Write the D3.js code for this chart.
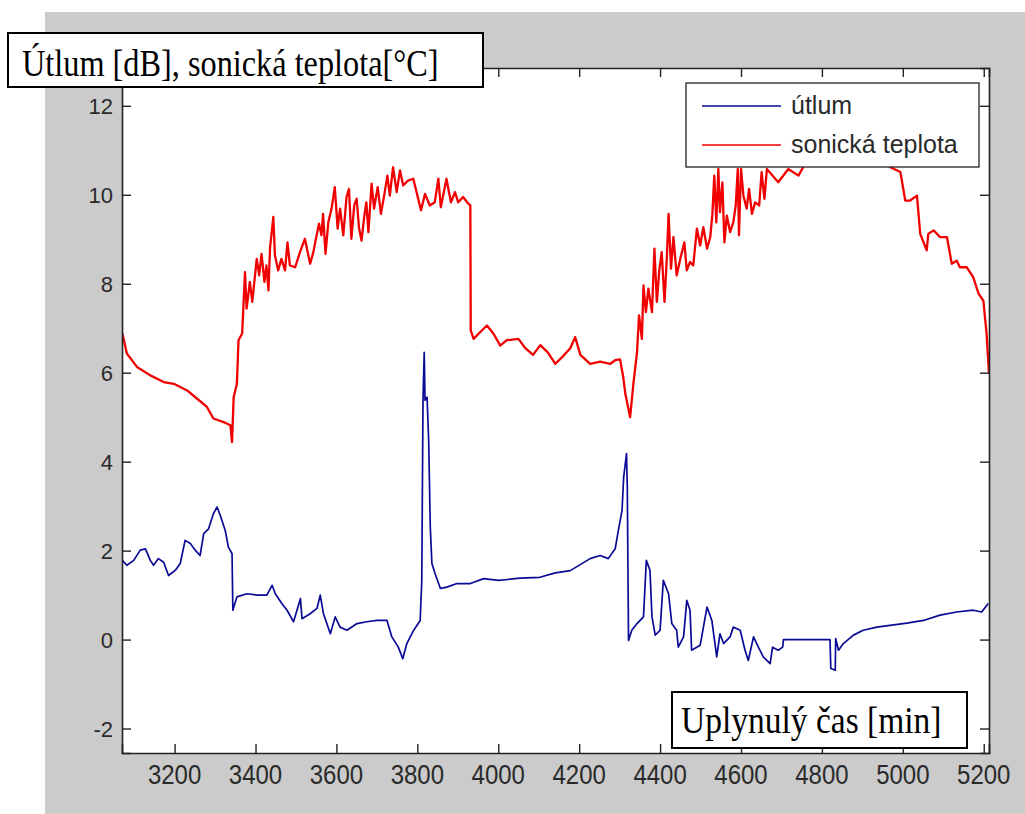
<!DOCTYPE html>
<html>
<head>
<meta charset="utf-8">
<script src="https://cdn.jsdelivr.net/npm/d3@7"></script>
<style>
  html, body { margin: 0; padding: 0; background: #fff; }
  svg { display: block; }
</style>
</head>
<body>
<div id="chart"></div>
<script>
// [time in min, value] pairs
const sonickaTeplota = [
  [3071, 6.88], [3082, 6.43], [3107, 6.13], [3140, 5.94], [3173, 5.79], [3198, 5.75], [3231, 5.60], [3255, 5.42],
  [3280, 5.23], [3296, 4.97], [3321, 4.89], [3338, 4.82], [3342, 4.44], [3346, 5.45], [3354, 5.75], [3358, 6.73],
  [3367, 6.88], [3370, 7.47], [3374, 8.26], [3378, 7.44], [3386, 8.04], [3392, 7.59], [3403, 8.56], [3409, 8.19],
  [3415, 8.67], [3422, 8.04], [3427, 8.41], [3432, 7.85], [3436, 8.82], [3444, 9.50], [3448, 8.64], [3456, 8.30],
  [3464, 8.56], [3473, 8.30], [3479, 8.93], [3485, 8.41], [3498, 8.37], [3510, 8.71], [3522, 9.01], [3535, 8.45],
  [3543, 8.71], [3551, 9.09], [3557, 9.35], [3563, 9.09], [3567, 9.57], [3573, 8.67], [3580, 9.38], [3588, 9.69],
  [3596, 10.17], [3603, 9.24], [3609, 9.69], [3617, 9.09], [3625, 9.95], [3631, 10.13], [3637, 9.01], [3644, 9.76],
  [3650, 9.91], [3656, 9.24], [3662, 8.97], [3669, 9.53], [3674, 9.83], [3679, 9.16], [3687, 10.25], [3693, 9.69],
  [3702, 10.17], [3710, 9.57], [3718, 9.98], [3726, 10.43], [3732, 9.98], [3740, 10.62], [3749, 10.06], [3757, 10.55],
  [3765, 10.21], [3777, 10.32], [3790, 10.36], [3798, 10.06], [3809, 9.65], [3819, 10.02], [3831, 9.76], [3843, 9.83],
  [3852, 10.36], [3858, 9.72], [3872, 10.36], [3883, 9.83], [3893, 10.06], [3901, 9.83], [3913, 9.95], [3926, 9.80],
  [3931, 9.76], [3932, 6.95], [3939, 6.76], [3955, 6.91], [3972, 7.06], [3988, 6.88], [4005, 6.61], [4021, 6.73],
  [4050, 6.76], [4067, 6.55], [4086, 6.40], [4104, 6.62], [4123, 6.45], [4141, 6.20], [4158, 6.35], [4178, 6.55],
  [4190, 6.80], [4203, 6.40], [4227, 6.20], [4252, 6.25], [4277, 6.20], [4289, 6.28], [4301, 6.30], [4309, 5.90],
  [4314, 5.53], [4326, 5.00], [4334, 5.75], [4343, 6.46], [4348, 7.29], [4355, 6.76], [4359, 7.96], [4365, 7.36],
  [4371, 7.89], [4380, 7.36], [4386, 8.79], [4392, 7.59], [4398, 8.30], [4404, 8.71], [4411, 7.59], [4417, 8.64],
  [4421, 9.57], [4427, 8.34], [4433, 9.05], [4441, 8.19], [4450, 8.56], [4460, 8.93], [4466, 8.30], [4474, 8.49],
  [4482, 8.41], [4491, 9.24], [4499, 8.86], [4507, 9.27], [4516, 8.79], [4524, 9.05], [4529, 9.53], [4534, 10.43],
  [4539, 9.38], [4544, 10.58], [4548, 9.61], [4554, 10.28], [4559, 8.93], [4565, 9.53], [4573, 9.16], [4581, 9.38],
  [4587, 9.76], [4592, 10.58], [4595, 9.09], [4600, 10.58], [4606, 9.98], [4614, 9.69], [4620, 10.13], [4627, 9.57],
  [4635, 9.83], [4645, 9.76], [4651, 10.51], [4658, 9.91], [4664, 10.58], [4692, 10.28], [4717, 10.58], [4742, 10.43],
  [4771, 10.9], [4808, 10.7], [4845, 11.0], [4894, 10.8], [4931, 10.9], [4969, 10.62], [4994, 10.51], [5006, 9.87],
  [5018, 9.87], [5035, 9.98], [5043, 9.12], [5059, 8.75], [5063, 9.12], [5076, 9.20], [5092, 9.05], [5109, 9.05],
  [5121, 8.45], [5133, 8.52], [5141, 8.37], [5158, 8.37], [5174, 8.15], [5187, 7.78], [5199, 7.62], [5207, 6.88],
  [5213, 5.98]
];

const utlum = [
  [3071, 1.78], [3082, 1.67], [3099, 1.78], [3115, 2.01], [3128, 2.04], [3140, 1.78], [3148, 1.67], [3160, 1.82],
  [3173, 1.74], [3185, 1.44], [3202, 1.56], [3214, 1.71], [3226, 2.23], [3239, 2.16], [3251, 2.01], [3263, 1.89],
  [3272, 2.38], [3284, 2.49], [3296, 2.83], [3305, 2.98], [3313, 2.79], [3325, 2.46], [3333, 2.08], [3342, 1.93],
  [3344, 0.66], [3354, 0.96], [3379, 1.03], [3404, 1.00], [3428, 1.00], [3441, 1.22], [3449, 1.03], [3465, 0.81],
  [3478, 0.66], [3494, 0.40], [3511, 0.92], [3515, 0.47], [3535, 0.58], [3552, 0.70], [3560, 1.00], [3568, 0.58],
  [3585, 0.13], [3597, 0.51], [3609, 0.28], [3626, 0.21], [3651, 0.36], [3675, 0.40], [3700, 0.43], [3725, 0.43],
  [3737, 0.06], [3753, -0.17], [3764, -0.43], [3774, -0.09], [3791, 0.21], [3807, 0.43], [3811, 1.33], [3814, 5.38],
  [3817, 6.46], [3819, 5.38], [3824, 5.45], [3828, 4.48], [3832, 2.53], [3836, 1.71], [3844, 1.48], [3857, 1.15],
  [3873, 1.18], [3898, 1.26], [3931, 1.26], [3964, 1.37], [4001, 1.33], [4054, 1.38], [4103, 1.40], [4141, 1.50],
  [4178, 1.55], [4227, 1.82], [4252, 1.89], [4272, 1.82], [4289, 2.04], [4297, 2.46], [4306, 2.91], [4310, 3.65],
  [4317, 4.18], [4319, 3.43], [4322, -0.02], [4330, 0.21], [4343, 0.36], [4359, 0.51], [4366, 1.78], [4375, 1.56],
  [4380, 0.51], [4388, 0.10], [4400, 0.21], [4408, 1.33], [4421, 1.03], [4429, 0.36], [4441, 0.21], [4445, -0.17],
  [4458, 0.06], [4466, 0.88], [4474, 0.66], [4478, -0.24], [4499, -0.13], [4516, 0.73], [4528, 0.43], [4540, -0.39],
  [4548, 0.13], [4557, -0.09], [4573, 0.06], [4581, 0.28], [4598, 0.21], [4610, -0.24], [4618, -0.47], [4631, 0.06],
  [4643, -0.17], [4655, -0.39], [4672, -0.54], [4678, -0.17], [4692, -0.24], [4703, -0.17], [4705, 0.00], [4820, 0.00],
  [4822, -0.65], [4833, -0.69], [4834, 0.02], [4841, -0.24], [4853, -0.09], [4878, 0.10], [4902, 0.21], [4936, 0.28],
  [4968, 0.32], [5010, 0.37], [5051, 0.43], [5092, 0.55], [5133, 0.62], [5174, 0.66], [5195, 0.62], [5211, 0.81]
];

const xTicks = [3200, 3400, 3600, 3800, 4000, 4200, 4400, 4600, 4800, 5000, 5200];
const yTicks = [-2, 0, 2, 4, 6, 8, 10, 12];
const seriesNames = ['útlum', 'sonická teplota'];
const seriesColors = ['#0a0a96', '#f00000'];
const yLabel = 'Útlum [dB], sonická teplota[°C]';
const xLabel = 'Uplynulý čas [min]';

const W = 1025, H = 814;
const plot = { left: 122, right: 989, top: 68, bottom: 753 };

const svg = d3.select('#chart').append('svg')
  .attr('width', W)
  .attr('height', H);

// grey figure background
svg.append('rect')
  .attr('x', 45).attr('y', 12)
  .attr('width', W - 45).attr('height', H - 12)
  .attr('fill', '#cbcbcb');

svg.append('rect')
  .attr('x', plot.left).attr('y', plot.top)
  .attr('width', plot.right - plot.left).attr('height', plot.bottom - plot.top)
  .attr('fill', '#fff');

const x = d3.scaleLinear().domain([3070, 5213]).range([plot.left, plot.right]);
const y = d3.scaleLinear().domain([-2.55, 12.85]).range([plot.bottom, plot.top]);

svg.append('clipPath').attr('id', 'clip')
  .append('rect')
  .attr('x', plot.left).attr('y', plot.top)
  .attr('width', plot.right - plot.left).attr('height', plot.bottom - plot.top);

const line = d3.line().x(d => x(d[0])).y(d => y(d[1]));

const lines = svg.append('g').attr('clip-path', 'url(#clip)');
lines.append('path')
  .attr('d', line(utlum))
  .attr('fill', 'none')
  .attr('stroke', seriesColors[0])
  .attr('stroke-width', 1.7)
  .attr('stroke-linejoin', 'round');
lines.append('path')
  .attr('d', line(sonickaTeplota))
  .attr('fill', 'none')
  .attr('stroke', seriesColors[1])
  .attr('stroke-width', 2.3)
  .attr('stroke-linejoin', 'round');

// axes, MATLAB style: ticks inward, box on
const tickLen = 9;
const axisG = svg.append('g');
axisG.append('g')
  .attr('transform', `translate(0,${plot.bottom})`)
  .call(d3.axisBottom(x).tickValues(xTicks).tickSize(-tickLen).tickFormat(''));
axisG.append('g')
  .attr('transform', `translate(0,${plot.top})`)
  .call(d3.axisTop(x).tickValues(xTicks).tickSize(-tickLen).tickFormat(''));
axisG.append('g')
  .attr('transform', `translate(${plot.left},0)`)
  .call(d3.axisLeft(y).tickValues(yTicks).tickSize(-tickLen).tickFormat(''));
axisG.append('g')
  .attr('transform', `translate(${plot.right},0)`)
  .call(d3.axisRight(y).tickValues(yTicks).tickSize(-tickLen).tickFormat(''));
axisG.selectAll('path.domain').attr('stroke', '#222').attr('stroke-width', 1.6);
axisG.selectAll('.tick line').attr('stroke', '#222').attr('stroke-width', 1.4);

const sans = 'Arial, "Liberation Sans", sans-serif';
const serif = '"Times New Roman", "Liberation Serif", serif';

svg.append('g').selectAll('text')
  .data(xTicks)
  .enter().append('text')
  .attr('transform', d => `translate(${x(d)},784) scale(1,1.12)`)
  .attr('text-anchor', 'middle')
  .attr('font-family', sans)
  .attr('font-size', 24)
  .attr('fill', '#2a2a2a')
  .text(d => d);

svg.append('g').selectAll('text')
  .data(yTicks)
  .enter().append('text')
  .attr('transform', d => `translate(113,${y(d) + 8})`)
  .attr('text-anchor', 'end')
  .attr('font-family', sans)
  .attr('font-size', 22)
  .attr('fill', '#2a2a2a')
  .text(d => d);

// legend
const legend = svg.append('g');
legend.append('rect')
  .attr('x', 686).attr('y', 83)
  .attr('width', 293).attr('height', 84)
  .attr('fill', '#fff')
  .attr('stroke', '#222')
  .attr('stroke-width', 1.3);
seriesNames.forEach((name, i) => {
  const ly = 106 + i * 39;
  legend.append('line')
    .attr('x1', 702).attr('x2', 781)
    .attr('y1', ly).attr('y2', ly)
    .attr('stroke', seriesColors[i])
    .attr('stroke-width', 1.4);
  legend.append('text')
    .attr('x', 791).attr('y', ly + 8)
    .attr('font-family', sans)
    .attr('font-size', 25)
    .attr('fill', '#2a2a2a')
    .text(name);
});

// label boxes pasted over the figure
svg.append('rect')
  .attr('x', 8).attr('y', 33)
  .attr('width', 475).attr('height', 54)
  .attr('fill', '#fff')
  .attr('stroke', '#000')
  .attr('stroke-width', 2);
svg.append('text')
  .attr('transform', 'translate(22,76) scale(1,1.15)')
  .attr('font-family', serif)
  .attr('font-size', 32.3)
  .attr('fill', '#000')
  .text(yLabel);

svg.append('rect')
  .attr('x', 672).attr('y', 692)
  .attr('width', 295).attr('height', 56)
  .attr('fill', '#fff')
  .attr('stroke', '#000')
  .attr('stroke-width', 2);
svg.append('text')
  .attr('transform', 'translate(681,733) scale(1,1.15)')
  .attr('font-family', serif)
  .attr('font-size', 33.5)
  .attr('fill', '#000')
  .text(xLabel);
</script>
</body>
</html>
